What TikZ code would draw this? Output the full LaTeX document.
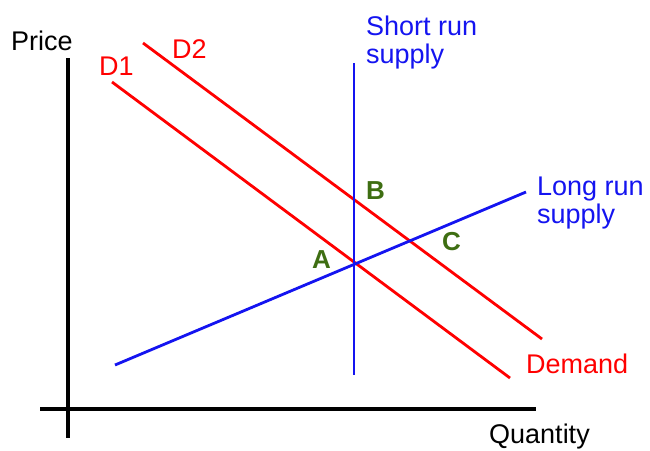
\documentclass[tikz,border=0pt]{standalone}
\usepackage{fontspec}
\setmainfont{Liberation Sans}
\usetikzlibrary{positioning}
\definecolor{ptgreen}{RGB}{62,110,18}
\definecolor{srblue}{RGB}{20,20,240}

\begin{document}
\begin{tikzpicture}[x=1pt, y=-1pt,
    lbl/.style={font=\fontsize{27}{28}\selectfont, inner sep=0pt, anchor=base west},
    pt/.style={lbl, font=\fontsize{26}{28}\selectfont\bfseries, text=ptgreen},
    axis/.style={line width=4pt},
    curve/.style={line width=2.8pt}]
    \useasboundingbox (0,0) rectangle (650,450);
    % axes
    \coordinate (Ytop) at (68,58); \coordinate (Ybot) at (68,438);
    \coordinate (Xl) at (40,409); \coordinate (Xr) at (536,409);
    \draw[axis] (Ytop) -- (Ybot); \draw[axis] (Xl) -- (Xr);
    % demand curves
    \coordinate (D1a) at (112,82); \coordinate (D1b) at (510,378);
    \coordinate (D2a) at (143,43); \coordinate (D2b) at (542,339);
    \draw[curve, red] (D1a) -- (D1b); \draw[curve, red] (D2a) -- (D2b);
    % supply curves
    \coordinate (SRa) at (354,63); \coordinate (SRb) at (354,375);
    \coordinate (LRa) at (115,365); \coordinate (LRb) at (526,192);
    \draw[curve, srblue] (SRa) -- (SRb); \draw[curve, srblue] (LRa) -- (LRb);

    \node[lbl] (price) at (11,50) {Price};
    \node[lbl] (qty) at (489,443) {Quantity};
    \node[lbl, text=red] (d1) at (99,75) {D1};
    \node[lbl, text=red] (d2) at (172,58) {D2};
    \node[lbl, text=red] (dem) at (526,373) {Demand};
    \node[lbl, text=srblue, align=left] (srs) at (366,63) {Short run\\supply};
    \node[lbl, text=srblue, align=left] (lrs) at (537,223) {Long run\\supply};
    \node[pt] (A) at (312,268) {A};
    \node[pt] (B) at (366,199) {B};
    \node[pt] (C) at (442,250) {C};
\end{tikzpicture}
\end{document}
